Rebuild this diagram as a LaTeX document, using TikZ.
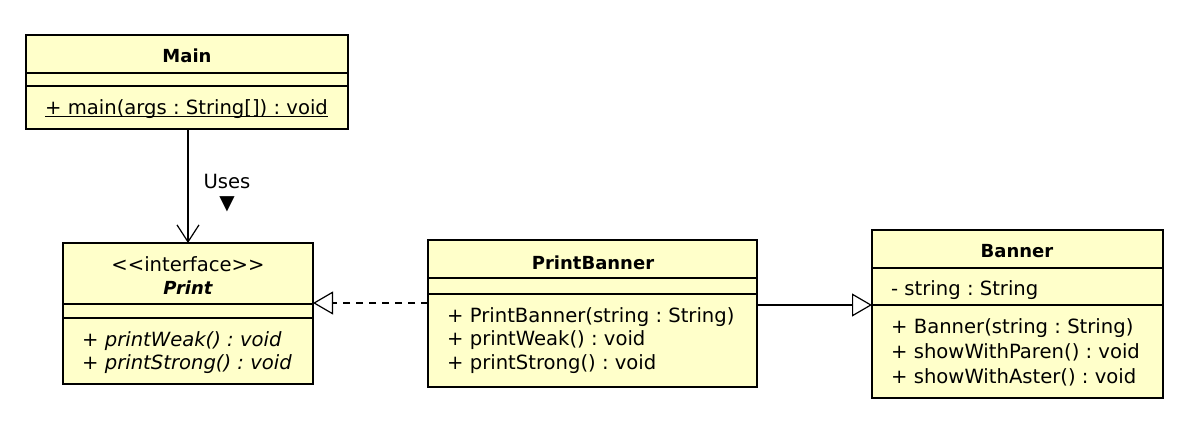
\documentclass[tikz,border=0pt]{standalone}
\usepackage{fontspec}
\setmainfont{DejaVu Sans}
\usetikzlibrary{arrows.meta}
\definecolor{umlfill}{HTML}{FFFFCA}
\frenchspacing
\tikzset{
  x=1pt, y=-1pt,
  cls/.style={draw, line width=2.6pt, fill=umlfill, anchor=north west, inner sep=0pt, outer sep=0pt},
  sepline/.style={line width=1.1pt},
  mem/.style={font=\fontsize{19.6}{22}\selectfont, inner sep=0pt, anchor=west, text height=17pt, text depth=2pt},
  ttl/.style={font=\bfseries\fontsize{18}{22}\selectfont, inner sep=0pt, text height=16pt, text depth=1pt},
  conn/.style={line width=1.2pt},
  hollow/.style={-{Triangle[open, length=20pt, width=23pt, fill=white, line width=1.2pt]}},
  barb/.style={-{Straight Barb[length=17pt, width=22pt, line width=1.2pt]}},
}
\begin{document}
\begin{tikzpicture}
\useasboundingbox (0,0) rectangle (1200,430);
% Main
\node[cls, minimum width=322pt, minimum height=94pt] (main) at (26,35) {};
\draw[sepline] (26,73) -- (348,73);
\draw[sepline] (26,86) -- (348,86);
\node[ttl] (mainT) at (187,55) {Main};
\node[mem] (mainM) at (45,107) {+ main(args : String[]) : void};
\draw[line width=1pt] ([yshift=-2pt]mainM.base west) -- ([yshift=-2pt]mainM.base east);
% Print
\node[cls, minimum width=250pt, minimum height=141pt] (print) at (63,243) {};
\draw[sepline] (63,304) -- (313,304);
\draw[sepline] (63,318) -- (313,318);
\node[mem, anchor=center] (printS) at (188,264) {<\kern0pt<interface>\kern0pt>};
\node[ttl] (printT) at (188,287) {\itshape Print};
\node[mem] (printM1) at (82,339) {\itshape + printWeak() : void};
\node[mem] (printM2) at (82,362) {\itshape + printStrong() : void};
% PrintBanner
\node[cls, minimum width=329pt, minimum height=147pt] (pb) at (428,240) {};
\draw[sepline] (428,278) -- (757,278);
\draw[sepline] (428,294) -- (757,294);
\node[ttl] (pbT) at (593,262) {PrintBanner};
\node[mem] (pbM1) at (447,315) {+ PrintBanner(string : String)};
\node[mem] (pbM2) at (447,338) {+ printWeak() : void};
\node[mem] (pbM3) at (447,362) {+ printStrong() : void};
% Banner
\node[cls, minimum width=291pt, minimum height=168pt] (ban) at (872,230) {};
\draw[sepline] (872,268) -- (1163,268);
\draw[sepline] (872,305) -- (1163,305);
\node[ttl] (banT) at (1017,250) {Banner};
\node[mem] (banA) at (891,288) {- string : String};
\node[mem] (banM1) at (891,326) {+ Banner(string : String)};
\node[mem] (banM2) at (891,351) {+ showWithParen() : void};
\node[mem] (banM3) at (891,376) {+ showWithAster() : void};
% connectors
\draw[conn, barb] (main.south -| 188,0) -- (print.north -| 188,0);
\node[mem, anchor=center] (uses) at (227,181) {Uses};
\node[inner sep=0pt, font=\fontsize{20}{20}\selectfont] (usesT) at (227,204) {▼};
\draw[conn, hollow, dash pattern=on 7pt off 6pt] (pb.west |- 0,303) -- (print.east |- 0,303);
\draw[conn, hollow] (pb.east |- 0,305) -- (ban.west |- 0,305);
\end{tikzpicture}
\end{document}
